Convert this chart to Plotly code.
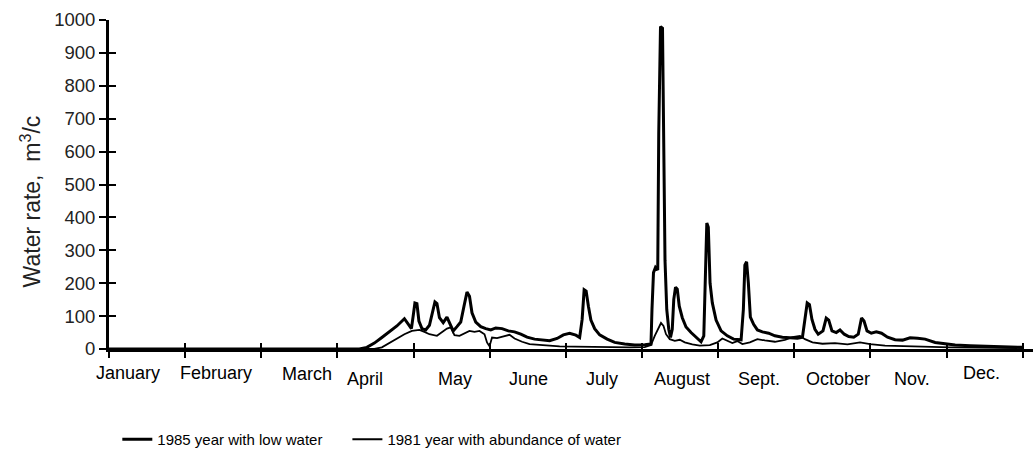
import plotly.graph_objects as go

# ---- data (day of year, water rate m3/c) ----
days_1985 = [0, 100, 103, 106, 109, 112, 115, 118, 119.5, 120.8, 121.5, 122.2, 123, 123.8, 125,
             126.5, 128, 129.3, 130.2, 131, 132, 133.5, 135, 136.3, 137.5, 139, 140.5, 141.8, 143,
             144, 145, 146.5, 148.5, 150.5, 152.5, 154.5, 157, 159.5, 162, 164.5, 167, 170, 173,
             176, 179, 181.5, 184, 186.5, 188, 189, 189.8, 190.6, 191.5, 192.5, 194, 196, 199, 202,
             206, 210, 214, 216.5, 216.9, 217.5, 218.3, 219.2, 219.6, 220.3, 221.1, 221.5, 222.1,
             222.8, 223.6, 224.3, 225, 225.6, 226.3, 227, 227.8, 229, 230.5, 232.5, 234.5, 236.5,
             237.6, 238.2, 238.8, 239.4, 240.1, 241, 242.5, 244.5, 247, 249.5, 252.5, 253.4, 254,
             254.7, 255.4, 256.2, 257.5, 259, 261, 263.5, 266, 269, 272, 275, 277, 278, 278.9,
             279.8, 280.8, 282, 283.3, 285.2, 286.5, 287.5, 288.8, 290.5, 292, 293.7, 295.5, 297.5,
             299.3, 300.6, 301.6, 302.8, 304.5, 306.5, 308.6, 311, 314, 317, 320, 323, 326, 330,
             334, 338, 344, 350, 357, 365]
flow_1985 = [0, 0, 5, 18, 35, 52, 70, 92, 75, 62, 100, 140, 138, 85, 62,
             58, 72, 110, 143, 138, 95, 80, 97, 75, 55, 68, 82, 130, 173,
             160, 110, 82, 68, 62, 58, 64, 62, 55, 52, 45, 36, 30, 27,
             25, 32, 43, 48, 42, 35, 90, 180, 176, 130, 88, 62, 43, 30, 20,
             15, 12, 13, 15, 120, 232, 248, 240, 655, 980, 975, 595, 270,
             120, 60, 35, 60, 150, 188, 182, 130, 95, 67, 50, 36, 22,
             40, 250, 383, 370, 200, 140, 88, 55, 40, 30, 28, 120, 255,
             265, 200, 97, 75, 58, 52, 48, 40, 36, 34, 33, 36, 100, 140,
             135, 90, 60, 45, 55, 94, 88, 55, 50, 58, 45, 38, 36,
             45, 94, 85, 55, 48, 52, 48, 36, 28, 27, 34, 33, 30, 20,
             15, 12, 10, 8, 6, 5]

days_1981 = [0, 106, 109, 112, 115, 118, 121, 124, 126, 128, 131, 133, 135, 136.5, 138, 140,
             142, 144, 146, 148, 150, 151, 152, 153, 155, 158, 160, 162, 165, 168, 172, 176,
             180, 186, 192, 200, 208, 214, 216.5, 218, 219.5, 220.5, 221.5, 222.5, 224, 226,
             228, 230, 233, 236, 240, 243, 245, 247, 249, 251, 253, 256, 259, 262, 266, 270,
             273, 276, 278, 281, 285, 290, 295, 300, 304, 310, 318, 326, 336, 346, 356, 365]
flow_1981 = [0, 0, 5, 18, 32, 45, 55, 58, 52, 45, 40, 50, 62, 66, 42, 40,
             48, 55, 52, 55, 45, 20, 8, 35, 33, 40, 43, 32, 22, 15, 12, 10,
             8, 7, 6, 5, 5, 6, 12, 40, 65, 79, 70, 45, 30, 25,
             28, 20, 14, 10, 12, 20, 32, 25, 18, 24, 15, 20, 30, 26, 22, 28,
             36, 40, 30, 20, 16, 18, 14, 20, 15, 10, 8, 6, 5, 4, 4, 3]

y_ticks = [0, 100, 200, 300, 400, 500, 600, 700, 800, 900, 1000]
month_labels = ["January", "February", "March", "April", "May", "June", "July",
                "August", "Sept.", "October", "Nov.", "Dec."]
month_label_days = [7.6, 42.7, 79.1, 102.2, 138.2, 167.7, 196.9, 228.8, 259.6, 291.1, 320.7, 348.6]
series_names = ["1985 year with low water", "1981 year with abundance of water"]

# ---- style / layout ----
FONT = "Liberation Sans, Arial, sans-serif"
month_ticks = [k * 365 / 12 for k in range(13)]
label_y = [-0.073, -0.073, -0.076, -0.091, -0.091, -0.091, -0.091,
           -0.091, -0.091, -0.091, -0.091, -0.073]

fig = go.Figure()
fig.add_trace(go.Scatter(x=days_1985, y=flow_1985, mode="lines", name=series_names[0],
                         line=dict(color="black", width=3), cliponaxis=False,
                         legend="legend"))
fig.add_trace(go.Scatter(x=days_1981, y=flow_1981, mode="lines", name=series_names[1],
                         line=dict(color="black", width=1.8), cliponaxis=False,
                         legend="legend2"))
# helper trace so the overlay axes (inner half of crossing ticks) are drawn
fig.add_trace(go.Scatter(x=[None], y=[None], xaxis="x2", yaxis="y2",
                         showlegend=False, hoverinfo="skip"))

for d, lab, yy in zip(month_label_days, month_labels, label_y):
    fig.add_annotation(x=d, y=yy, xref="x", yref="paper", text=lab, showarrow=False,
                       xanchor="center", yanchor="middle",
                       font=dict(family=FONT, size=18, color="black"))

fig.add_annotation(x=-0.085, y=0.45, xref="paper", yref="paper",
                   text="Water rate,  m<sup>3</sup>/c", textangle=-90, showarrow=False,
                   xanchor="center", yanchor="middle",
                   font=dict(family=FONT, size=23, color="#222"))

axis_common = dict(showgrid=False, zeroline=False)
legend_font = dict(family=FONT, size=15, color="black")
fig.update_layout(
    width=1035, height=461,
    margin=dict(l=109, r=2, t=20, b=112),
    paper_bgcolor="white", plot_bgcolor="white",
    showlegend=True,
    xaxis=dict(range=[0, 369.1], showline=True, linecolor="black", linewidth=3,
               ticks="outside", ticklen=6, tickwidth=2, tickcolor="black",
               tickvals=month_ticks, showticklabels=False, **axis_common),
    yaxis=dict(range=[0, 1000], showline=True, linecolor="black", linewidth=3,
               ticks="outside", ticklen=7, tickwidth=2, tickcolor="black",
               tickvals=y_ticks, tickfont=dict(family=FONT, size=18.5, color="#222"),
               **axis_common),
    xaxis2=dict(range=[0, 369.1], overlaying="x", anchor="y", side="bottom",
                ticks="inside", ticklen=6, tickwidth=2, tickcolor="black",
                tickvals=month_ticks, showticklabels=False, showline=False, **axis_common),
    yaxis2=dict(range=[0, 1000], overlaying="y", anchor="x", side="left",
                ticks="inside", ticklen=7, tickwidth=2, tickcolor="black",
                tickvals=y_ticks, showticklabels=False, showline=False, **axis_common),
    legend=dict(orientation="h", x=0.009, y=-0.275, xanchor="left", yanchor="middle",
                font=legend_font, bgcolor="rgba(0,0,0,0)"),
    legend2=dict(orientation="h", x=0.258, y=-0.275, xanchor="left", yanchor="middle",
                 font=legend_font, bgcolor="rgba(0,0,0,0)"),
    hovermode=False,
)

fig.write_html("out.html")
